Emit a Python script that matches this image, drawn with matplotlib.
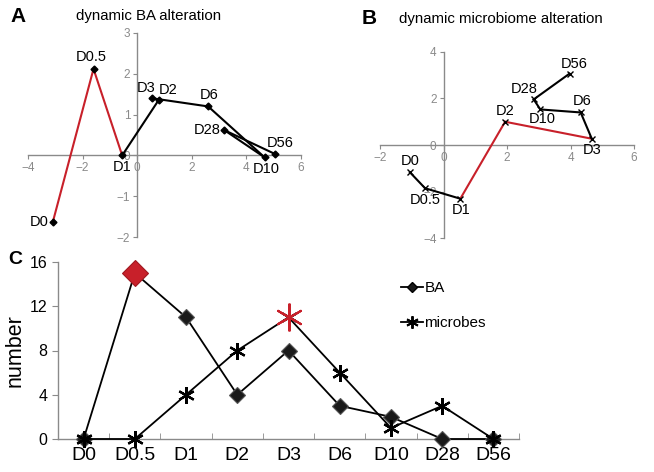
import matplotlib as mpl
import matplotlib.pyplot as plt
import numpy as np

mpl.rcParams.update({
    "font.family": ["Liberation Sans", "DejaVu Sans"],
    "axes.unicode_minus": True,
})

DAYS = ["D0", "D0.5", "D1", "D2", "D3", "D6", "D10", "D28", "D56"]

# panel A: BA trajectory
BA_X = [-3.09, -1.60, -0.55, 0.79, 0.55, 2.60, 4.67, 3.19, 5.03]
BA_Y = [-1.63, 2.12, 0.00, 1.36, 1.40, 1.20, -0.05, 0.62, 0.04]
# panel B: microbiome trajectory
MB_X = [-1.06, -0.58, 0.53, 1.94, 4.67, 4.32, 3.05, 2.84, 3.97]
MB_Y = [-1.17, -1.86, -2.31, 1.00, 0.27, 1.40, 1.53, 1.96, 3.07]
# panel C: counts
BA_COUNT = [0, 15, 11, 4, 8, 3, 2, 0, 0]
MB_COUNT = [0, 0, 4, 8, 11, 6, 1, 3, 0]

GREY = "#8a8a8a"
RED = "#c8202a"

# label offsets in pixels (dx, dy, ha, va)
A_LABELS = {
    "D0": (-4, 0, "right", "center"),
    "D0.5": (-2, 5, "center", "bottom"),
    "D1": (0, -5, "center", "top"),
    "D2": (0, 3, "left", "bottom"),
    "D3": (3, 3, "right", "bottom"),
    "D6": (1, 4, "center", "bottom"),
    "D10": (2, -5, "center", "top"),
    "D28": (-4, 0, "right", "center"),
    "D56": (6, 4, "center", "bottom"),
}
B_LABELS = {
    "D0": (0, 4, "center", "bottom"),
    "D0.5": (0, -5, "center", "top"),
    "D1": (1, -4, "center", "top"),
    "D2": (0, 4, "center", "bottom"),
    "D3": (0, -4, "center", "top"),
    "D6": (1, 4, "center", "bottom"),
    "D10": (2, -3, "center", "top"),
    "D28": (4, 3, "right", "bottom"),
    "D56": (5, 3, "center", "bottom"),
}


def cross_axes(ax, xlim, ylim, xticks, yticks):
    ax.set_xlim(*xlim)
    ax.set_ylim(*ylim)
    for side in ("top", "right"):
        ax.spines[side].set_visible(False)
    ax.spines["left"].set_position(("data", 0))
    ax.spines["bottom"].set_position(("data", 0))
    for side in ("left", "bottom"):
        ax.spines[side].set_color(GREY)
        ax.spines[side].set_linewidth(1.0)
    ax.set_xticks(xticks)
    ax.set_yticks(yticks)
    ax.tick_params(direction="out", length=3, width=0.8, color=GREY,
                   labelcolor=GREY, labelsize=8.5, pad=2)
    ax.patch.set_alpha(0)


def trajectory(ax, xs, ys, red_span, marker, ms, labels):
    for i in range(len(xs) - 1):
        color = RED if red_span[0] <= i < red_span[1] else "black"
        ax.plot(xs[i:i + 2], ys[i:i + 2], color=color, lw=1.5, zorder=3)
    ax.plot(xs, ys, ls="none", marker=marker, ms=ms, color="black",
            mew=1.0, zorder=4)
    for day, x, y in zip(DAYS, xs, ys):
        dx, dy, ha, va = labels[day]
        ax.annotate(day, (x, y), xytext=(dx * 0.72, dy * 0.72),
                    textcoords="offset points", ha=ha, va=va,
                    fontsize=10.5, zorder=5)


fig = plt.figure(figsize=(6.54, 4.72), dpi=100)
W, H = 654, 472


def px_axes(x0, y_top, x1, y_bottom):
    return fig.add_axes([x0 / W, 1 - y_bottom / H, (x1 - x0) / W, (y_bottom - y_top) / H])


# panel A
axA = px_axes(28, 33, 301, 237)
cross_axes(axA, (-4, 6), (-2, 3), [-4, -2, 0, 2, 4, 6], [-2, -1, 0, 1, 2, 3])
trajectory(axA, BA_X, BA_Y, (0, 2), "D", 3.5, A_LABELS)
fig.text(10 / W, 1 - 16 / H, "A", fontsize=15, fontweight="bold", va="center")
fig.text(76 / W, 1 - 16 / H, "dynamic BA alteration", fontsize=10.8, va="center")

# panel B
axB = px_axes(380, 52, 634, 238)
cross_axes(axB, (-2, 6), (-4, 4), [-2, 0, 2, 4, 6], [-4, -2, 0, 2, 4])
trajectory(axB, MB_X, MB_Y, (2, 4), "x", 4, B_LABELS)
fig.text(362 / W, 1 - 19 / H, "B", fontsize=15, fontweight="bold", va="center")
fig.text(399 / W, 1 - 19 / H, "dynamic microbiome alteration", fontsize=10.8, va="center")

# panel C
axC = px_axes(58, 262, 519, 439)
x = np.arange(len(DAYS))
axC.plot(x, BA_COUNT, color="black", lw=1.3, marker="D", ms=8,
         mfc="#1a1a1a", mec="#555555", mew=0.8, label="BA", zorder=3)
axC.plot(x, MB_COUNT, color="black", lw=1.3, marker=(6, 2, 0), ms=12,
         mew=1.6, label="microbes", zorder=3)
i_ba = int(np.argmax(BA_COUNT))
i_mb = int(np.argmax(MB_COUNT))
axC.plot(x[i_ba], BA_COUNT[i_ba], ls="none", marker="D", ms=13,
         mfc=RED, mec="#a01820", mew=0.8, zorder=4)
axC.plot(x[i_mb], MB_COUNT[i_mb], ls="none", marker=(6, 2, 0), ms=20,
         mec=RED, mew=1.5, zorder=4)

axC.set_xlim(-0.5, len(DAYS) - 0.5)
axC.set_ylim(0, 16)
axC.set_yticks([0, 4, 8, 12, 16])
axC.set_xticks(x)
axC.set_xticklabels(DAYS)
axC.set_xticks(np.arange(-0.5, len(DAYS), 1.0), minor=True)
for side in ("top", "right"):
    axC.spines[side].set_visible(False)
for side in ("left", "bottom"):
    axC.spines[side].set_color(GREY)
    axC.spines[side].set_linewidth(1.0)
axC.tick_params(axis="x", which="major", length=0, labelsize=14, pad=6)
axC.tick_params(axis="x", which="minor", direction="in", length=4, color=GREY)
axC.tick_params(axis="y", direction="out", length=4, color=GREY, labelsize=11.5)
axC.set_ylabel("number", fontsize=15.5, labelpad=3)
axC.patch.set_alpha(0)
for line in axC.lines:
    line.set_clip_on(False)

leg_handles = [
    mpl.lines.Line2D([], [], color="black", lw=1.3, marker="D", ms=5, mfc="#1a1a1a"),
    mpl.lines.Line2D([], [], color="black", lw=1.3, marker=(6, 2, 0), ms=9, mew=1.4),
]
axC.legend(leg_handles, ["BA", "microbes"], loc="upper left",
           bbox_to_anchor=(0.715, 0.97), frameon=False, fontsize=11,
           handlelength=1.4, handletextpad=0.1, labelspacing=1.4)
fig.text(8 / W, 1 - 259 / H, "C", fontsize=14, fontweight="bold", va="center")

fig.savefig("out.png", dpi=100, facecolor="white")
